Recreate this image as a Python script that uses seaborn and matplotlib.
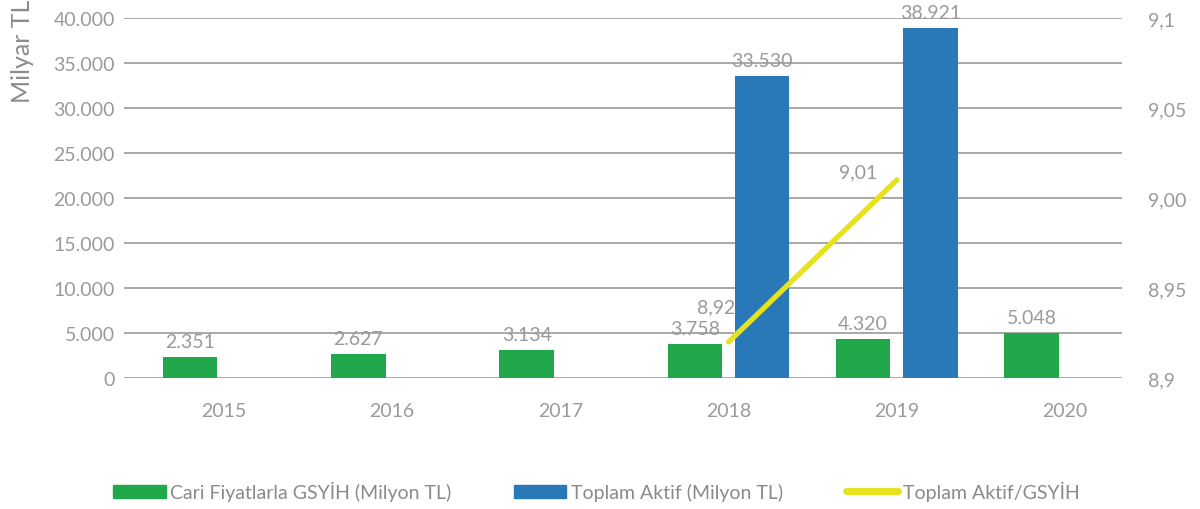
import pandas as pd
import matplotlib
matplotlib.use('Agg')
import matplotlib.pyplot as plt
import seaborn as sns
from matplotlib.patches import Patch
from matplotlib.lines import Line2D

years = ['2015', '2016', '2017', '2018', '2019', '2020']
gsyih = [2351, 2627, 3134, 3758, 4320, 5048]
aktif = [None, None, None, 33530, 38921, None]
ratio_years = ['2018', '2019']
ratio = [8.92, 9.01]
ratio_labels = ['8,92', '9,01']

gsyih_name = 'Cari Fiyatlarla GSYİH (Milyon TL)'
aktif_name = 'Toplam Aktif (Milyon TL)'
ratio_name = 'Toplam Aktif/GSYİH'

left_ticks = [0, 5000, 10000, 15000, 20000, 25000, 30000, 35000, 40000]
right_ticks = [8.9, 8.95, 9.0, 9.05, 9.1]
right_tick_labels = ['8,9', '8,95', '9,00', '9,05', '9,1']

GREEN = '#21a84a'
BLUE = '#2979b8'
YELLOW = '#e6e31c'
GREY = '#9a9a9a'
TXT = '#9a9a9a'


def tr_num(v):
    return f"{v:,.0f}".replace(',', '.')


def main():
    sns.set_style('white')
    plt.rcParams['font.family'] = ['Lato', 'DejaVu Sans']

    df = pd.DataFrame({
        'year': years * 2,
        'series': [gsyih_name] * len(years) + [aktif_name] * len(years),
        'value': gsyih + aktif,
    })
    df['value'] = df['value'].astype(float)

    fig = plt.figure(figsize=(12, 5.1), dpi=100)
    ax = fig.add_axes([0.1033, 0.2569, 0.8317, 0.7058])

    sns.barplot(data=df, x='year', y='value', hue='series', order=years,
                hue_order=[gsyih_name, aktif_name], palette=[GREEN, BLUE],
                width=0.8, gap=0.19, saturation=1, linewidth=0,
                ax=ax, legend=False)

    # etiketler: binlik ayırıcı nokta
    for cont in ax.containers:
        labels = [tr_num(b.get_height()) for b in cont]
        ax.bar_label(cont, labels=labels, padding=5, color=TXT, fontsize=14)

    ax.set_ylim(0, 40000)
    ax.set_xlim(-0.593, 5.338)
    ax.set_yticks(left_ticks)
    ax.set_yticklabels([tr_num(t) for t in left_ticks])
    ax.yaxis.grid(True, color=GREY, linewidth=1.2)
    ax.set_axisbelow(True)
    ax.set_xlabel('')
    ax.set_ylabel('')
    ax.tick_params(axis='y', length=0, pad=6.5, labelsize=14, labelcolor=TXT)
    ax.tick_params(axis='x', length=0, pad=17, labelsize=14, labelcolor=TXT)
    for s in ax.spines.values():
        s.set_visible(False)

    # sağ eksen: Toplam Aktif/GSYİH
    ax2 = ax.twinx()
    xpos = [years.index(y) for y in ratio_years]
    sns.lineplot(x=xpos, y=ratio, ax=ax2, color=YELLOW, linewidth=3.8,
                 solid_capstyle='round')
    ax2.set_ylim(8.9, 9.1)
    ax2.set_yticks(right_ticks)
    ax2.set_yticklabels(right_tick_labels)
    ax2.tick_params(axis='y', length=0, pad=19, labelsize=14, labelcolor=TXT)
    for s in ax2.spines.values():
        s.set_visible(False)
    ax2.set_xlim(-0.593, 5.338)

    offsets = [(-12, 35), (-39, 8)]
    for x, y, lab, off in zip(xpos, ratio, ratio_labels, offsets):
        ax2.annotate(lab, (x, y), xytext=off, textcoords='offset pixels',
                     ha='center', va='center', color=TXT, fontsize=14)

    fig.text(0.019, 1.0, 'Milyar TL', rotation=90, ha='center', va='top',
             color='#8c8c8c', fontsize=18)

    handles = [
        Patch(color=GREEN, label=gsyih_name),
        Patch(color=BLUE, label=aktif_name),
        Line2D([], [], color=YELLOW, linewidth=5, solid_capstyle='round', label=ratio_name),
    ]
    fig.legend(handles=handles, loc='center', bbox_to_anchor=(0.497, 0.035), ncol=3,
               frameon=False, fontsize=14, labelcolor='#8a8a8a',
               handlelength=2.7, handletextpad=0.25, columnspacing=3.2)

    fig.savefig('out.png', dpi=100)
    plt.close(fig)


if __name__ == '__main__':
    main()
